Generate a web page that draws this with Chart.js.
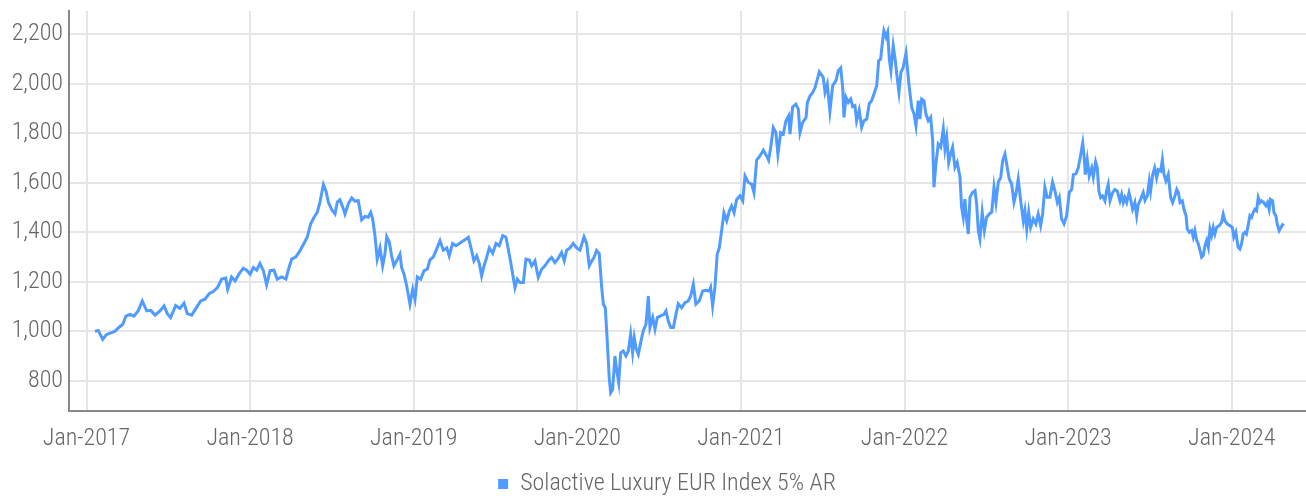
<!DOCTYPE html>
<html><head><meta charset="utf-8">
<script src="https://cdn.jsdelivr.net/npm/chart.js@4.4.1/dist/chart.umd.min.js"></script>
<style>html,body{margin:0;padding:0;background:#fff}#wrap{width:1306px;height:496px}</style>
</head><body><div id="wrap"><canvas id="chart"></canvas></div>
<script>
// time as decimal years, values as index level
const timeYears = [
2017.052,2017.072,2017.099,2017.123,2017.154,2017.174,2017.201,2017.221,2017.241,2017.266,2017.290,2017.317,2017.341,2017.368,2017.392,2017.419,2017.449,2017.474,2017.494,2017.514,2017.545,2017.571,2017.596,2017.616,2017.643,2017.669,2017.698,2017.724,2017.751,2017.775,2017.800,2017.826,2017.851,2017.863,2017.887,2017.908,2017.934,2017.958,2017.979,
2018.000,2018.020,2018.040,2018.060,2018.081,2018.101,2018.122,2018.146,2018.166,2018.193,2018.219,2018.233,2018.254,2018.280,2018.305,2018.329,2018.350,2018.370,2018.391,2018.411,2018.427,2018.448,2018.464,2018.478,2018.499,2018.519,2018.533,2018.549,
2018.570,2018.580,2018.600,2018.621,2018.641,2018.661,2018.682,2018.702,2018.722,2018.737,2018.749,2018.763,2018.777,2018.794,2018.810,2018.824,2018.835,2018.851,2018.865,2018.879,2018.896,2018.916,2018.926,2018.941,2018.957,2018.977,2018.994,
2019.008,2019.022,2019.043,2019.063,2019.083,2019.099,2019.120,2019.140,2019.161,2019.181,2019.202,2019.217,2019.238,2019.258,2019.279,2019.299,2019.320,2019.334,2019.354,2019.368,2019.385,2019.401,2019.415,2019.430,2019.446,2019.462,2019.483,2019.503,2019.523,2019.544,2019.564,2019.578,2019.593,2019.605,2019.619,2019.633,2019.650,2019.670,2019.686,2019.707,2019.721,2019.741,2019.761,2019.782,2019.802,2019.823,2019.843,2019.863,2019.884,2019.904,2019.920,2019.935,2019.955,2019.975,2019.996,
2020.016,2020.041,2020.057,2020.073,2020.088,2020.102,2020.118,2020.134,2020.149,2020.159,2020.171,2020.183,2020.195,2020.204,2020.216,2020.230,2020.241,2020.253,2020.265,2020.281,2020.297,2020.312,2020.326,2020.338,2020.348,2020.359,2020.373,2020.387,2020.403,2020.420,2020.434,2020.444,2020.461,2020.475,2020.489,2020.509,2020.530,2020.542,2020.556,2020.571,2020.587,2020.603,2020.617,2020.638,2020.658,2020.678,2020.693,2020.709,2020.725,2020.745,2020.766,2020.786,2020.807,2020.815,2020.827,2020.841,2020.855,2020.868,2020.882,2020.896,2020.913,2020.929,2020.943,2020.958,2020.974,2020.994,
2021.011,2021.025,2021.045,2021.066,2021.080,2021.096,2021.116,2021.137,2021.157,2021.169,2021.182,2021.198,2021.214,2021.226,2021.243,2021.259,2021.275,2021.292,2021.300,2021.316,2021.336,2021.351,2021.361,2021.377,2021.398,2021.406,2021.422,2021.439,2021.453,2021.467,2021.479,2021.503,2021.514,2021.528,2021.544,2021.561,2021.581,2021.595,2021.610,2021.622,2021.630,2021.642,2021.656,2021.671,2021.683,2021.697,2021.707,2021.723,2021.738,2021.752,2021.769,2021.785,2021.799,2021.813,2021.830,2021.842,2021.854,2021.866,2021.874,2021.887,2021.897,2021.907,2021.917,2021.931,2021.944,2021.956,2021.966,2021.978,2021.992,
2022.009,2022.019,2022.029,2022.044,2022.058,2022.070,2022.084,2022.094,2022.105,2022.119,2022.131,2022.145,2022.160,2022.172,2022.180,2022.192,2022.206,2022.221,2022.237,2022.247,2022.258,2022.270,2022.282,2022.294,2022.308,2022.322,2022.339,2022.349,2022.359,2022.369,2022.380,2022.390,2022.400,2022.416,2022.431,2022.441,2022.451,2022.461,2022.475,2022.488,2022.502,2022.518,2022.533,2022.547,2022.559,2022.573,2022.588,2022.600,2022.614,2022.628,2022.640,2022.655,2022.669,2022.681,2022.695,2022.710,2022.726,2022.736,2022.747,2022.759,2022.771,2022.787,2022.803,2022.817,2022.832,2022.844,2022.858,2022.872,2022.889,2022.905,2022.919,2022.934,2022.946,2022.960,2022.975,2022.991,
2023.007,2023.022,2023.032,2023.048,2023.062,2023.077,2023.089,2023.097,2023.105,2023.117,2023.129,2023.144,2023.154,2023.168,2023.178,2023.188,2023.199,2023.211,2023.225,2023.235,2023.245,2023.256,2023.272,2023.286,2023.300,2023.317,2023.327,2023.337,2023.347,2023.358,2023.372,2023.382,2023.394,2023.408,2023.419,2023.429,2023.443,2023.459,2023.470,2023.484,2023.496,2023.504,2023.517,2023.529,2023.541,2023.551,2023.566,2023.576,2023.586,2023.598,2023.612,2023.627,2023.639,2023.653,2023.664,2023.674,2023.684,2023.698,2023.708,2023.721,2023.728,2023.741,2023.755,2023.765,2023.775,2023.786,2023.796,2023.806,2023.816,2023.826,2023.837,2023.847,2023.857,2023.867,2023.877,2023.887,2023.897,2023.908,2023.924,2023.938,2023.948,2023.958,2023.973,2023.989,
2024.003,2024.013,2024.025,2024.039,2024.050,2024.060,2024.070,2024.080,2024.090,2024.100,2024.111,2024.121,2024.131,2024.141,2024.152,2024.162,2024.172,2024.182,2024.196,2024.209,2024.219,2024.229,2024.237,2024.250,2024.258,2024.270,2024.278,2024.290,2024.301,2024.311,2024.319
];
const indexValues = [
1001,1004,968,988,995,1001,1018,1028,1062,1069,1062,1085,1123,1083,1085,1066,1083,1103,1072,1056,1105,1093,1114,1072,1066,1093,1123,1130,1153,1161,1177,1211,1215,1170,1220,1204,1234,1255,1247,
1231,1258,1247,1274,1245,1188,1245,1247,1211,1220,1211,1247,1292,1301,1326,1355,1382,1434,1461,1481,1522,1593,1566,1522,1491,1474,1522,1531,
1495,1474,1515,1539,1526,1528,1450,1464,1461,1481,1454,1387,1292,1337,1265,1312,1382,1360,1305,1265,1285,1312,1258,1231,1184,1110,1170,
1130,1220,1211,1245,1251,1288,1301,1332,1366,1328,1337,1305,1355,1346,1355,1364,1373,1380,1326,1285,1305,1274,1224,1265,1299,1337,1315,1355,1346,1387,1380,1332,1278,1231,1177,1211,1197,1197,1292,1288,1265,1285,1218,1251,1265,1285,1299,1278,1296,1319,1285,1328,1337,1355,1337,
1328,1382,1355,1265,1284,1298,1327,1314,1177,1110,1096,962,814,753,767,901,841,794,914,921,901,921,989,914,975,932,908,955,1002,1029,1143,1016,1056,1009,1056,1063,1069,1083,1042,1016,1016,1069,1112,1096,1116,1123,1143,1190,1110,1123,1163,1166,1163,1177,1103,1177,1311,1338,1406,1479,1446,1486,1506,1479,1533,1547,
1527,1627,1601,1594,1560,1691,1708,1731,1708,1691,1742,1822,1802,1715,1802,1796,1849,1870,1796,1906,1917,1896,1802,1843,1863,1923,1950,1964,1984,2017,2048,2025,1965,1998,1888,1992,2012,2052,2063,1985,1864,1945,1924,1938,1907,1911,1850,1893,1824,1850,1857,1920,1931,1958,1992,2092,2099,2173,2213,2187,2207,2099,2052,2153,2092,2018,1965,2045,2066,
2122,2052,1985,1904,1877,1830,1931,1857,1938,1931,1877,1850,1864,1770,1582,1676,1756,1743,1817,1736,1783,1682,1716,1743,1662,1682,1622,1501,1461,1534,1447,1393,1541,1561,1568,1514,1407,1373,1481,1407,1461,1474,1481,1582,1521,1602,1622,1689,1716,1662,1615,1595,1521,1555,1615,1528,1447,1487,1413,1481,1420,1454,1434,1474,1427,1474,1582,1541,1541,1602,1568,1521,1541,1454,1434,1467,
1561,1573,1633,1636,1660,1713,1760,1713,1633,1693,1627,1660,1623,1684,1660,1567,1540,1547,1527,1567,1593,1527,1560,1573,1567,1527,1553,1520,1540,1520,1560,1533,1493,1520,1467,1513,1533,1560,1529,1547,1607,1567,1633,1660,1620,1653,1647,1693,1633,1607,1633,1540,1520,1547,1573,1560,1520,1527,1493,1467,1413,1400,1407,1380,1407,1367,1353,1327,1300,1307,1347,1367,1340,1413,1387,1420,1393,1420,1427,1440,1473,1447,1433,1427,
1420,1380,1400,1340,1333,1353,1393,1400,1393,1427,1467,1460,1480,1493,1487,1540,1520,1527,1520,1507,1520,1493,1533,1527,1480,1467,1433,1407,1420,1431,1427
];
const yearTicks = [2017,2018,2019,2020,2021,2022,2023,2024];
const valueTicks = [800,1000,1200,1400,1600,1800,2000,2200];
const seriesName = 'Solactive Luxury EUR Index 5% AR';

const lineColor = '#4f9bff';
const textColor = '#666666';
const baseFont = {family: 'Roboto', size: 24, style: 'normal', weight: '300 condensed'};

const points = timeYears.map((t, i) => ({x: t, y: indexValues[i]}));

// nudge the legend block to sit like the reference
const legendShift = {
  id: 'legendShift',
  afterLayout(chart) {
    const l = chart.legend;
    if (!l) return;
    l.top += 10; l.bottom += 10; l.left += 14; l.right += 14;
  }
};

new Chart(document.getElementById('chart'), {
  type: 'line',
  data: {datasets: [{
    label: seriesName,
    data: points,
    borderColor: lineColor,
    backgroundColor: lineColor,
    borderWidth: 3,
    pointRadius: 0,
    tension: 0,
    fill: false
  }]},
  plugins: [legendShift],
  options: {
    responsive: true,
    maintainAspectRatio: false,
    animation: false,
    layout: {padding: {top: 11, right: 0, left: 0, bottom: 0}},
    plugins: {
      tooltip: {enabled: false},
      legend: {
        position: 'bottom',
        labels: {
          color: textColor, font: baseFont, boxWidth: 10, boxHeight: 10, padding: 2,
          generateLabels(chart) {
            const items = Chart.defaults.plugins.legend.labels.generateLabels(chart);
            items.forEach(it => { it.lineWidth = 0; it.fillStyle = lineColor; it.strokeStyle = lineColor; });
            return items;
          }
        }
      }
    },
    scales: {
      x: {
        type: 'linear',
        min: 2016.893,
        max: 2024.454,
        afterBuildTicks(scale) { scale.ticks = yearTicks.map(v => ({value: v})); },
        afterFit(scale) { scale.height = 49; scale.paddingLeft = 0; scale.paddingRight = 0; },
        ticks: {
          autoSkip: false, maxRotation: 0, minRotation: 0, padding: 14,
          color: textColor, font: baseFont,
          callback: v => 'Jan-' + v
        },
        grid: {color: '#e6e6e6', lineWidth: 2, drawTicks: false},
        border: {display: true, color: '#888888', width: 2}
      },
      y: {
        type: 'linear',
        min: 679,
        max: 2293,
        afterBuildTicks(scale) { scale.ticks = valueTicks.map(v => ({value: v})); },
        afterFit(scale) { scale.width = 69; scale.paddingTop = 0; scale.paddingBottom = 0; },
        ticks: {
          padding: 6, color: textColor, font: baseFont,
          callback: v => v.toLocaleString('en-US')
        },
        grid: {color: '#e6e6e6', lineWidth: 2, drawTicks: false},
        border: {display: true, color: '#888888', width: 2}
      }
    }
  }
});
</script></body></html>
